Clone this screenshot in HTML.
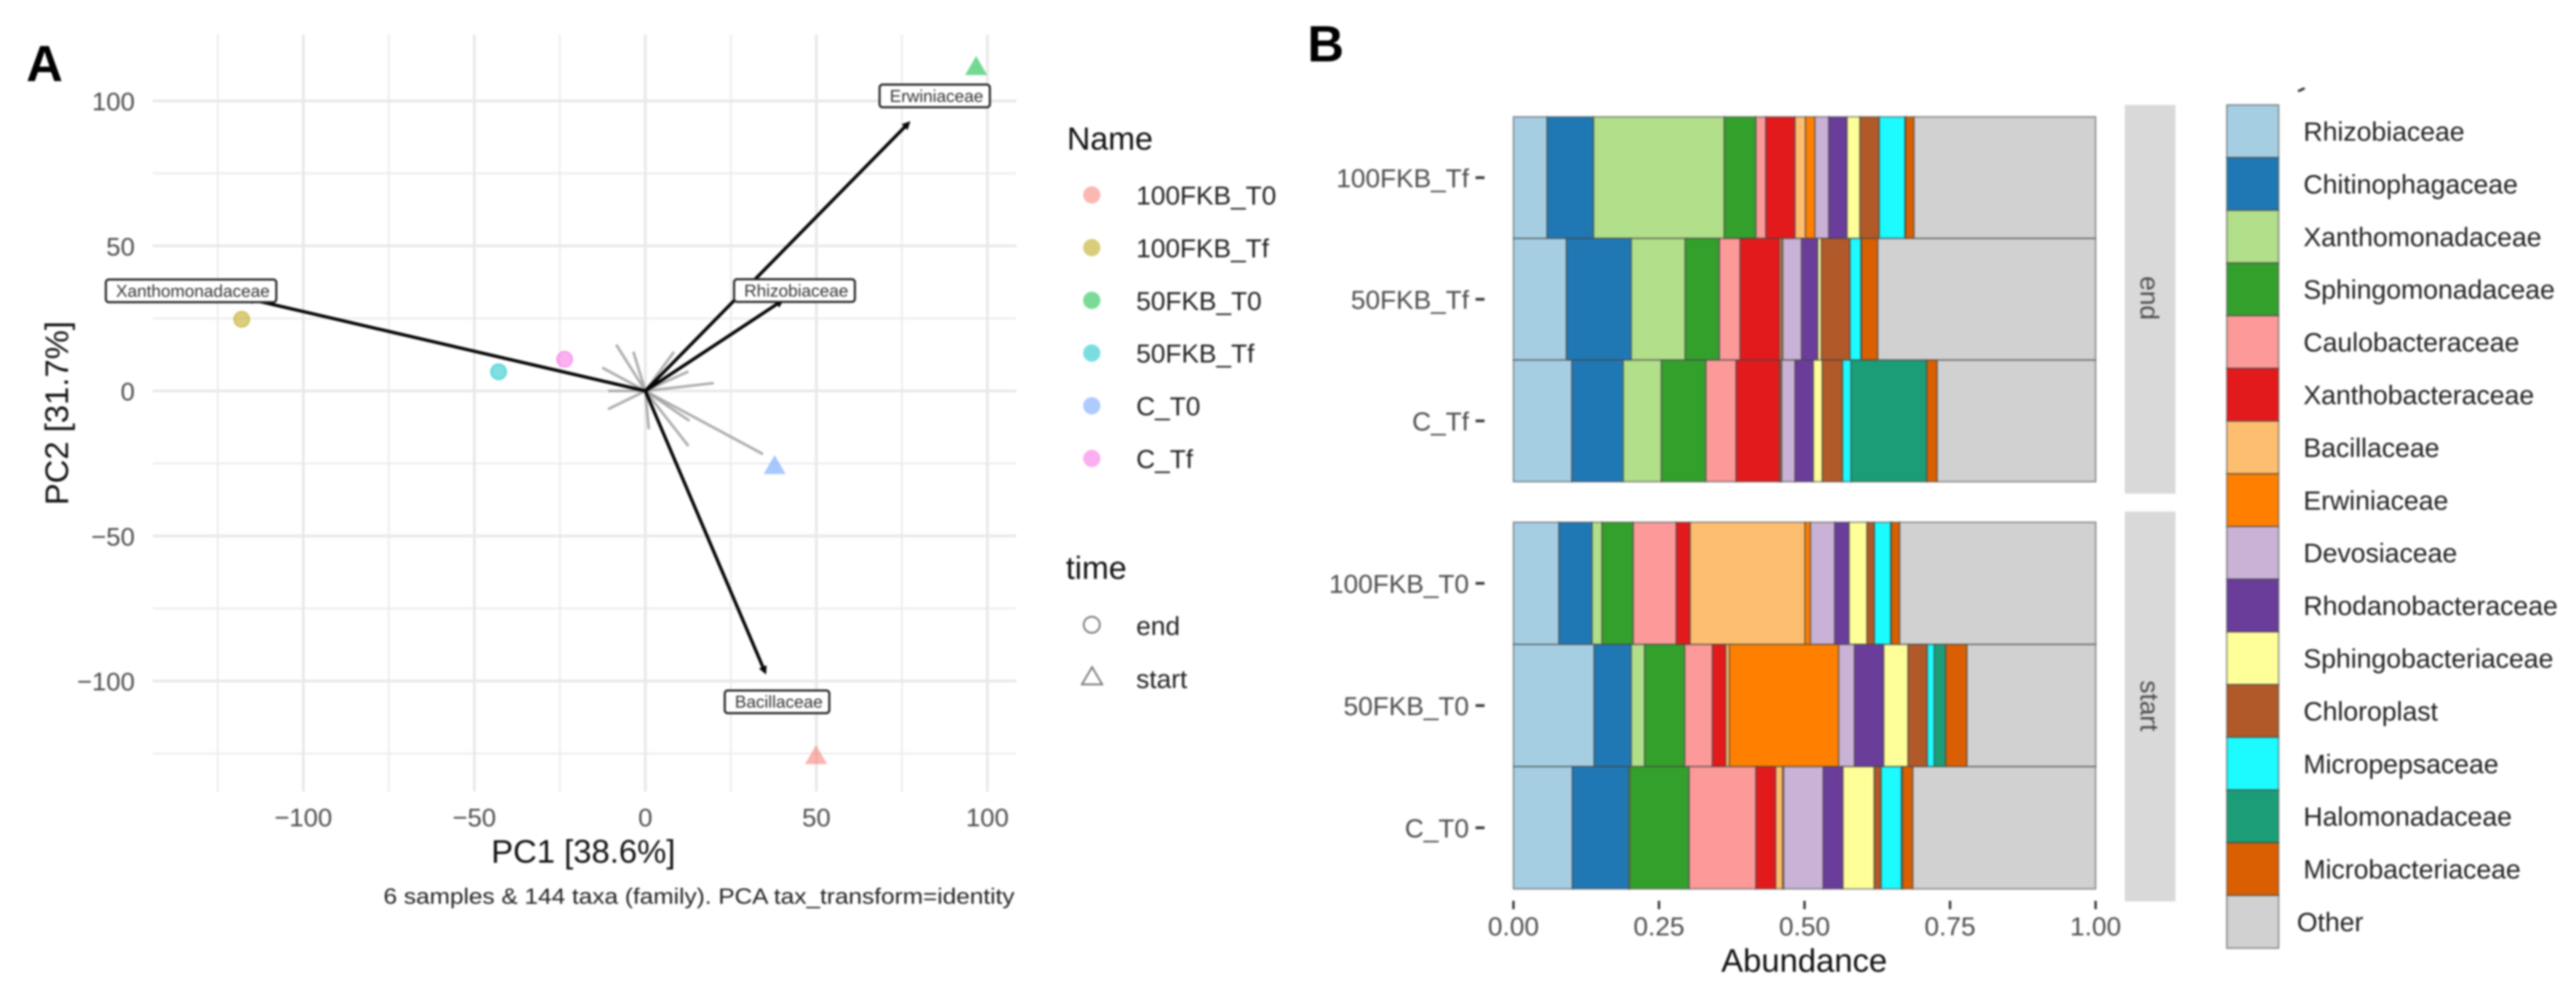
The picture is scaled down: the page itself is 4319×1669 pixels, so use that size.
<!DOCTYPE html>
<html lang="en">
<head>
<meta charset="utf-8">
<title>PCA biplot and taxa abundance bars</title>
<style>
html,body{margin:0;padding:0;background:#fff;}
body{width:4319px;height:1669px;overflow:hidden;}
svg{display:block;filter:blur(1.5px);font-family:"Liberation Sans",sans-serif;}
.tick{font-size:43px;fill:#4d4d4d;}
.tickb{font-size:44px;fill:#4d4d4d;}
.title{font-size:55px;fill:#111;}
.legtitle{font-size:54px;fill:#111;}
.legtext{font-size:44px;fill:#222;}
.leglab{font-size:44.6px;fill:#222;}
.boxtext{font-size:28.8px;fill:#333;}
.panel{font-size:85px;font-weight:bold;fill:#000;}
</style>
</head>
<body>
<svg id="fig" xmlns="http://www.w3.org/2000/svg" width="4319" height="1669" viewBox="0 0 4319 1669">
  <rect x="0" y="0" width="4319" height="1669" fill="#fff"/>
  <text class="panel" x="44" y="136">A</text>
  <text class="panel" x="2192" y="103">B</text>
  <g id="pca-grid"></g>
  <g id="pca-loadings"></g>
  <g id="pca-points"></g>
  <g id="pca-labels"></g>
  <g id="pca-ticks"></g>
  <text class="title" x="978" y="1447" text-anchor="middle">PC1 [38.6%]</text>
  <text class="title" transform="translate(114,693) rotate(-90)" text-anchor="middle">PC2 [31.7%]</text>
  <text x="643" y="1516" font-size="37" fill="#222" textLength="1058" lengthAdjust="spacingAndGlyphs">6 samples &amp; 144 taxa (family). PCA tax_transform=identity</text>
  <text class="legtitle" x="1789" y="251">Name</text>
  <g id="name-legend"></g>
  <text class="legtitle" x="1787" y="971">time</text>
  <circle cx="1830.5" cy="1048" r="13.5" fill="none" stroke="#7a7a7a" stroke-width="3"/>
  <polygon points="1831,1119 1848,1148 1814,1148" fill="none" stroke="#7a7a7a" stroke-width="3"/>
  <text class="legtext" x="1905" y="1065">end</text>
  <text class="legtext" x="1905" y="1154">start</text>

  <g id="bars"></g>
  <g id="bar-ticks"></g>
  <text class="title" x="3025" y="1630" text-anchor="middle">Abundance</text>
  <rect x="3562.5" y="176" width="85" height="652" fill="#d9d9d9"/>
  <rect x="3562.5" y="858" width="85" height="654" fill="#d9d9d9"/>
  <text class="tickb" transform="translate(3589,500) rotate(90)" text-anchor="middle">end</text>
  <text class="tickb" transform="translate(3589,1184) rotate(90)" text-anchor="middle">start</text>
  <path d="M3853 153 L3864 148" stroke="#333" stroke-width="4" fill="none"/>
  <g id="taxa-legend"></g>
</svg>

<script>
// ---------- PCA data ----------
const xTickValues = [-100, -50, 0, 50, 100];
const yTickValues = [100, 50, 0, -50, -100];
const xMinorValues = [-125, -75, -25, 25, 75];
const yMinorValues = [75, 25, -25, -75, -125];
const sampleNames = ['100FKB_T0', '100FKB_Tf', '50FKB_T0', '50FKB_Tf', 'C_T0', 'C_Tf'];
const samplePC1 = [49.9, -118, 96.7, -42.9, 37.8, -23.6];
const samplePC2 = [-125.6, 24.7, 112, 6.6, -25.6, 10.9];
const sampleTime = ['start', 'end', 'start', 'end', 'start', 'end'];
const loadingNames = ['Xanthomonadaceae', 'Erwiniaceae', 'Rhizobiaceae', 'Bacillaceae'];
const loadingPC1 = [-117, 77.5, 40.5, 35.3];
const loadingPC2 = [32, 93, 31.5, -97.8];
const loadingLabelPC1 = [-132.8, 84.6, 43.6, 38.5];
const loadingLabelPC2 = [34.5, 101.7, 34.6, -107.2];
const minorLoadingPC1 = [-8.5, -3.5, 8.4, 12.6, -12.6, 20, -10.9, -10.9, 1, 12.6, 12.9, 34.4];
const minorLoadingPC2 = [15.9, 13.5, 13.5, 6.7, 8, 2.7, 0, -6.3, -13.2, -19, -10.3, -21.8];

// ---------- Abundance data (one value per taxon, in legend order) ----------
const taxa = ['Rhizobiaceae', 'Chitinophagaceae', 'Xanthomonadaceae', 'Sphingomonadaceae', 'Caulobacteraceae', 'Xanthobacteraceae', 'Bacillaceae', 'Erwiniaceae', 'Devosiaceae', 'Rhodanobacteraceae', 'Sphingobacteriaceae', 'Chloroplast', 'Micropepsaceae', 'Halomonadaceae', 'Microbacteriaceae', 'Other'];
const abundance100FKB_Tf = [.0578, .0799, .2245, .0544, .017, .0502, .0179, .0162, .0238, .0315, .0221, .0332, .0442, .001, .0145, .3118];
const abundance50FKB_Tf = [.091, .1114, .0927, .0587, .0357, .068, .0034, .0017, .0323, .0281, .006, .0493, .0187, .0009, .0281, .3741];
const abundanceC_Tf = [.1003, .0884, .0655, .0765, .0519, .0748, .0017, .0017, .023, .0315, .0153, .0349, .0145, .1301, .0179, .2721];
const abundance100FKB_T0 = [.0782, .057, .017, .0536, .074, .0238, .1973, .0094, .0417, .0247, .0306, .0128, .0281, .0009, .0145, .3367];
const abundance50FKB_T0 = [.1386, .0638, .023, .0689, .0476, .023, .006, .1879, .0272, .0502, .0417, .0332, .0119, .0196, .0366, .2211];
const abundanceC_T0 = [.1012, .0969, .0017, .102, .1148, .034, .0119, .0017, .068, .034, .0536, .0119, .0349, .0017, .0179, .3138];
const endSamples = ['100FKB_Tf', '50FKB_Tf', 'C_Tf'];
const endAbundance = [abundance100FKB_Tf, abundance50FKB_Tf, abundanceC_Tf];
const startSamples = ['100FKB_T0', '50FKB_T0', 'C_T0'];
const startAbundance = [abundance100FKB_T0, abundance50FKB_T0, abundanceC_T0];
const abundanceTicks = [0, 0.25, 0.5, 0.75, 1];

// ---------- Styles ----------
const hueColors = ['#F8766D', '#B79F00', '#00BA38', '#00BFC4', '#619CFF', '#F564E3'];
const taxaColors = ['#A6CEE3', '#1F78B4', '#B2DF8A', '#33A02C', '#FB9A99', '#E31A1C', '#FDBF6F', '#FF7F00', '#CAB2D6', '#6A3D9A', '#FFFF99', '#B15928', '#1CFBFF', '#1B9E77', '#D95F02', '#D1D1D1'];

// ---------- Axis functions ----------
const pcaX = v => 1082 + 5.735 * v;
const pcaY = v => 655.7 - 4.865 * v;
const abX = v => 2537.5 + 976 * v;

const NS = 'http://www.w3.org/2000/svg';
function mk(tag, parentId, attrs) {
  const el = document.createElementNS(NS, tag);
  for (const k in attrs) el.setAttribute(k, attrs[k]);
  document.getElementById(parentId).appendChild(el);
  return el;
}
const fmtTick = v => (v < 0 ? '\u2212' : '') + Math.abs(v);

// ---------- PCA grid ----------
xMinorValues.forEach(v => {
  const el = mk('line', 'pca-grid', {x1: pcaX(v), x2: pcaX(v), y1: 58, y2: 1328, stroke: '#ececec', 'stroke-width': 3});
  
  
});
yMinorValues.forEach(v => {
  const el = mk('line', 'pca-grid', {x1: 256, x2: 1704, y1: pcaY(v), y2: pcaY(v), stroke: '#ececec', 'stroke-width': 3});
  
  
});
xTickValues.forEach(v => {
  const el = mk('line', 'pca-grid', {x1: pcaX(v), x2: pcaX(v), y1: 58, y2: 1328, stroke: '#e8e8e8', 'stroke-width': 4.5});
  
  
  const t = mk('text', 'pca-ticks', {x: pcaX(v), y: 1386, 'text-anchor': 'middle', class: 'tick'});
  t.textContent = fmtTick(v);
  
  
});
yTickValues.forEach(v => {
  const el = mk('line', 'pca-grid', {x1: 256, x2: 1704, y1: pcaY(v), y2: pcaY(v), stroke: '#e8e8e8', 'stroke-width': 4.5});
  
  
  const t = mk('text', 'pca-ticks', {x: 226, y: pcaY(v) + 16, 'text-anchor': 'end', class: 'tick'});
  t.textContent = fmtTick(v);
  
  
});

// ---------- PCA loadings ----------
minorLoadingPC1.forEach((v, i) => {
  const el = mk('line', 'pca-loadings', {x1: pcaX(0), y1: pcaY(0), x2: pcaX(v), y2: pcaY(minorLoadingPC2[i]), stroke: '#a0a0a0', 'stroke-opacity': .85, 'stroke-width': 4.5});
  
  
});
loadingPC1.forEach((v, i) => {
  const tx = pcaX(v), ty = pcaY(loadingPC2[i]);
  const ox = pcaX(0), oy = pcaY(0);
  const len = Math.hypot(tx - ox, ty - oy) || 1;
  const ux = (tx - ox) / len, uy = (ty - oy) / len;
  const el = mk('line', 'pca-loadings', {x1: ox, y1: oy, x2: tx - ux * 6, y2: ty - uy * 6, stroke: '#050505', 'stroke-width': 5.5});
  
  
  const bx = tx - ux * 14, by = ty - uy * 14;
  const head = mk('polygon', 'pca-loadings', {points: `${tx},${ty} ${bx - uy * 7},${by + ux * 7} ${bx + uy * 7},${by - ux * 7}`, fill: '#050505'});
  
  
});

// ---------- PCA points ----------
samplePC1.forEach((v, i) => {
  const cx = pcaX(v), cy = pcaY(samplePC2[i]);
  const isStart = sampleTime[i] === 'start';
  const el = isStart
    ? mk('polygon', 'pca-points', {points: `${cx},${cy - 17} ${cx + 18.5},${cy + 15} ${cx - 18.5},${cy + 15}`, fill: hueColors[i], 'fill-opacity': .55})
    : mk('circle', 'pca-points', {cx: cx, cy: cy, r: 13, fill: hueColors[i], 'fill-opacity': .5, stroke: hueColors[i], 'stroke-opacity': .5, 'stroke-width': 2.5});
  
  
});

// ---------- PCA loading labels ----------
loadingNames.forEach((name, i) => {
  const cx = pcaX(loadingLabelPC1[i]), cy = pcaY(loadingLabelPC2[i]);
  const box = mk('rect', 'pca-labels', {y: cy - 19, height: 38, rx: 5, fill: '#fff', stroke: '#222', 'stroke-width': 3.5});
  
  
  const t = mk('text', 'pca-labels', {y: cy + 10, class: 'boxtext'});
  t.textContent = name;
  
  
  const w = t.getComputedTextLength() + 28;
  box.setAttribute('x', cx - w / 2);
  box.setAttribute('width', w);
  t.setAttribute('x', cx - w / 2 + 17);
});

// ---------- Name legend ----------
sampleNames.forEach((name, i) => {
  const cy = 327 + 88.4 * i;
  const c = mk('circle', 'name-legend', {cx: 1830.5, cy: cy, r: 14.5, fill: hueColors[i], 'fill-opacity': .52});
  
  
  const t = mk('text', 'name-legend', {x: 1905, y: cy + 16, class: 'legtext'});
  t.textContent = name;
  
  
});

// ---------- Stacked bars ----------
function drawFacet(samples, rows, top, bottom) {
  const band = (bottom - top) / samples.length;
  samples.forEach((name, r) => {
    const y = top + band * r;
    let cum = 0;
    rows[r].forEach((val, k) => {
      const el = mk('rect', 'bars', {x: abX(cum), y: y, width: abX(cum + val) - abX(cum), height: band, fill: taxaColors[k], stroke: '#444', 'stroke-opacity': .55, 'stroke-width': 2.5});
      
      
      cum += val;
    });
    const mid = y + band / 2;
    const tk = mk('line', 'bar-ticks', {x1: 2474, x2: 2489, y1: mid, y2: mid, stroke: '#333', 'stroke-width': 4.5});
    
    
    const t = mk('text', 'bar-ticks', {x: 2463, y: mid + 16, 'text-anchor': 'end', class: 'tickb'});
    t.textContent = name;
    
    
  });
}
drawFacet(endSamples, endAbundance, 196, 808);
drawFacet(startSamples, startAbundance, 876, 1491);

abundanceTicks.forEach(v => {
  const tk = mk('line', 'bar-ticks', {x1: abX(v), x2: abX(v), y1: 1511, y2: 1525, stroke: '#333', 'stroke-width': 4});
  
  
  const t = mk('text', 'bar-ticks', {x: abX(v), y: 1569, 'text-anchor': 'middle', class: 'tickb'});
  t.textContent = v.toFixed(2);
  
  
});

// ---------- Taxa legend ----------
taxa.forEach((name, i) => {
  const top = 176 + 88.4 * i;
  const sw = mk('rect', 'taxa-legend', {x: 3733.5, y: top, width: 87, height: 88.4, fill: taxaColors[i], stroke: '#444', 'stroke-opacity': .55, 'stroke-width': 2.5});
  
  
  const t = mk('text', 'taxa-legend', {x: name === 'Other' ? 3851 : 3862, y: 236 + 88.4 * i, class: 'leglab'});
  t.textContent = name;
  
  
});
</script>
</body>
</html>
